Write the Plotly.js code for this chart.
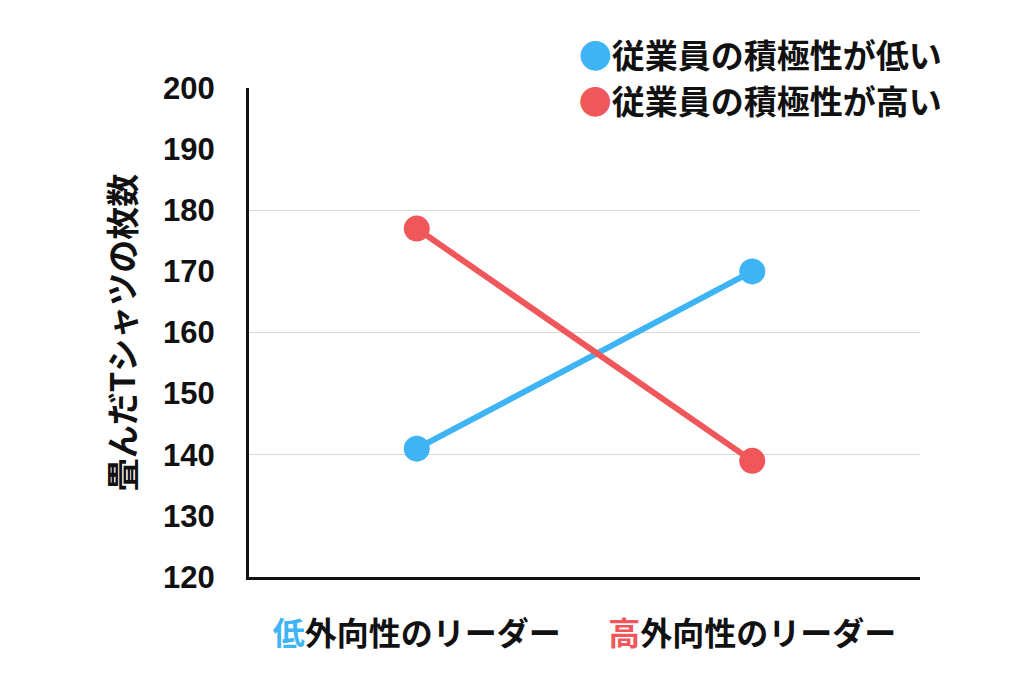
<!DOCTYPE html>
<html><head><meta charset="utf-8">
<script src="https://cdn.plot.ly/plotly-3.0.1.min.js"></script>
<style>html,body{margin:0;padding:0;background:#fff}#chart{width:1024px;height:683px}</style>
</head><body><div id="chart"></div>
<script>
const categories = ['<span style="color:#3fb4f5">低</span>外向性のリーダー', '<span style="color:#f0575b">高</span>外向性のリーダー'];
const seriesNames = ['従業員の積極性が低い', '従業員の積極性が高い'];
const lowEngagement = [141, 170];
const highEngagement = [177, 139];
const yTickVals = [120, 130, 140, 150, 160, 170, 180, 190, 200];
const yTitle = '畳んだTシャツの枚数';

const blue = '#3fb4f5', red = '#f0575b';
const latin = 'Liberation Sans, Arial, Noto Sans CJK JP, sans-serif';
const cjk = 'Noto Sans CJK JP, sans-serif';

const xIdx = [0, 1];
const hiddenMarker = {color: 'rgba(0,0,0,0)', size: 0, line: {width: 0, color: 'rgba(0,0,0,0)'}};
const traces = [
  {x: xIdx, y: lowEngagement, yaxis: 'y2', mode: 'none', showlegend: false, hoverinfo: 'skip'},
  {x: xIdx, y: lowEngagement, mode: 'lines+markers', line: {color: blue, width: 6}, marker: {color: blue, size: 26}, showlegend: false, cliponaxis: false},
  {x: xIdx, y: highEngagement, mode: 'lines+markers', line: {color: red, width: 6}, marker: {color: red, size: 26}, showlegend: false, cliponaxis: false},
  {x: [null], y: [null], mode: 'markers', name: '<span style="color:' + blue + '">●</span>' + seriesNames[0], marker: hiddenMarker},
  {x: [null], y: [null], mode: 'markers', name: '<span style="color:' + red + '">●</span>' + seriesNames[1], marker: hiddenMarker}
];

const layout = {
  width: 1024, height: 683,
  margin: {l: 249, r: 104, t: 88, b: 106},
  paper_bgcolor: '#fff', plot_bgcolor: '#fff',
  font: {family: latin, color: '#111', weight: 'bold'},
  showlegend: true,
  legend: {x: 1.04, xanchor: 'right', y: 1.125, yanchor: 'top', font: {size: 33, family: cjk, weight: 'bold', color: '#111'}, itemwidth: 30, bgcolor: 'rgba(0,0,0,0)', tracegroupgap: 0},
  xaxis: {
    range: [-0.5, 1.5], tickvals: xIdx, ticktext: categories, showgrid: false, zeroline: false,
    showline: true, linecolor: '#111', linewidth: 3, ticks: '', ticklabelstandoff: 27,
    tickfont: {size: 32, family: cjk, weight: 'bold', color: '#111'}
  },
  yaxis: {
    range: [120, 200], tickvals: yTickVals, showgrid: false, zeroline: false,
    showline: true, linecolor: '#111', linewidth: 3, ticks: '', ticklabelstandoff: 25,
    tickfont: {size: 31, family: latin, weight: 'bold', color: '#111'},
    title: {text: yTitle, font: {size: 33, family: cjk, weight: 'bold', color: '#111'}, standoff: 18}
  },
  yaxis2: {
    range: [120, 200], overlaying: 'y', dtick: 20, tick0: 120, showgrid: true, gridcolor: '#d9d9d9', gridwidth: 1,
    showticklabels: false, zeroline: false, showline: false, ticks: ''
  }
};

Plotly.newPlot('chart', traces, layout, {staticPlot: true, displayModeBar: false});
</script></body></html>
